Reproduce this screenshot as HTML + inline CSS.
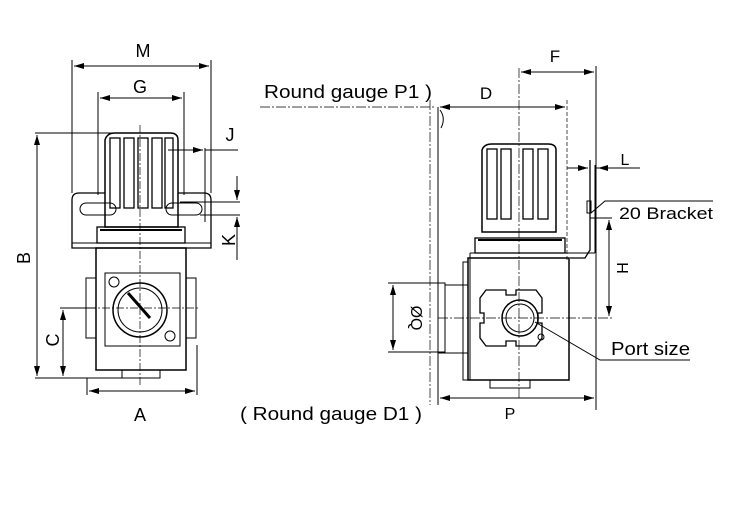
<!DOCTYPE html>
<html><head><style>body{margin:0;background:#fff}svg{display:block}text{font-family:"Liberation Sans",sans-serif;fill:#000}</style></head><body>
<svg width="734" height="508" viewBox="0 0 734 508" xmlns="http://www.w3.org/2000/svg">
<defs><marker id="a" viewBox="0 0 10 6" refX="10" refY="3" markerWidth="10" markerHeight="6" orient="auto-start-reverse"><path d="M0,0L10,3L0,6z" fill="#000"/></marker></defs>
<g stroke="#000" fill="none" stroke-width="1">
<line x1="72" y1="60" x2="72" y2="193"/><line x1="211" y1="60" x2="211" y2="193"/>
<line x1="74" y1="66" x2="209" y2="66" marker-start="url(#a)" marker-end="url(#a)"/>
<line x1="98" y1="92" x2="98" y2="195"/><line x1="184" y1="92" x2="184" y2="195"/>
<line x1="100" y1="98" x2="182" y2="98" marker-start="url(#a)" marker-end="url(#a)"/>
<line x1="35" y1="133" x2="150" y2="133"/>
<line x1="37" y1="135" x2="37" y2="376" marker-start="url(#a)" marker-end="url(#a)"/>
<line x1="35" y1="378" x2="160" y2="378"/>
<line x1="60" y1="308" x2="96" y2="308"/>
<line x1="63" y1="310" x2="63" y2="376" marker-start="url(#a)" marker-end="url(#a)"/>
<path d="M105,193 H79 Q72,193 72,200 V248 H211 V200 Q211,193 204,193 H178" stroke-width="1.3"/>
<rect x="80" y="203" width="36" height="12" rx="6"/><rect x="166" y="203" width="36" height="12" rx="6"/>
<line x1="72" y1="243" x2="211" y2="243"/>
<path d="M105,227 V140 Q107,133 115,133 H170 Q178,133 178,140 V227 Z" stroke-width="1.5"/>
<g stroke-width="1.3"><rect x="110" y="138" width="10" height="70"/><rect x="124" y="138" width="10" height="70"/><rect x="138" y="138" width="10" height="70"/><rect x="152" y="138" width="10" height="70"/><rect x="165" y="138" width="8" height="70"/></g>
<rect x="97" y="227" width="88" height="16" stroke-width="1.3"/><line x1="100" y1="230" x2="182" y2="230" stroke-width="2"/>
<rect x="96" y="248" width="90" height="122" stroke-width="1.5"/>
<rect x="122" y="370" width="38" height="8"/>
<rect x="105" y="273" width="75" height="73"/>
<circle cx="140" cy="310" r="27" stroke-width="1.5"/><circle cx="140" cy="310" r="22"/>
<line x1="128" y1="293" x2="150" y2="318" stroke-width="3"/>
<circle cx="114" cy="282" r="5"/><circle cx="170" cy="336" r="5"/>
<rect x="86" y="278" width="10" height="60"/><rect x="186" y="278" width="10" height="60"/>
<line x1="140" y1="125" x2="140" y2="385" stroke-dasharray="8,2,2,2" stroke-width=".7"/>
<line x1="60" y1="308" x2="200" y2="308" stroke-dasharray="8,2,2,2" stroke-width=".7"/>
<line x1="87" y1="378" x2="87" y2="395"/><line x1="197" y1="345" x2="197" y2="395"/>
<line x1="89" y1="391" x2="195" y2="391" marker-start="url(#a)" marker-end="url(#a)"/>
<line x1="168" y1="150" x2="203" y2="150" marker-end="url(#a)"/><line x1="205" y1="148" x2="205" y2="222"/><line x1="205" y1="150" x2="238" y2="150"/>
<line x1="180" y1="202" x2="240" y2="202"/><line x1="200" y1="215" x2="240" y2="215"/>
<line x1="237" y1="176" x2="237" y2="200" marker-end="url(#a)"/><line x1="237" y1="260" x2="237" y2="217" marker-end="url(#a)"/>
<line x1="519" y1="68" x2="519" y2="400" stroke-dasharray="10,2,2,2" stroke-width=".7"/>
<line x1="596" y1="66" x2="596" y2="410"/>
<line x1="521" y1="72" x2="594" y2="72" marker-start="url(#a)" marker-end="url(#a)"/>
<line x1="260" y1="107" x2="436" y2="107" stroke-dasharray="10,2,2,2" stroke-width=".7"/>
<line x1="440" y1="107" x2="565" y2="107" marker-start="url(#a)" marker-end="url(#a)"/>
<line x1="567" y1="100" x2="567" y2="262" stroke-dasharray="4,2" stroke-width=".7"/>
<line x1="430" y1="100" x2="430" y2="405" stroke-dasharray="10,2,2,2" stroke-width=".7"/>
<line x1="438" y1="107" x2="438" y2="405"/>
<path d="M440,110 Q446,118 441,128"/>
<path d="M482,232 V150 Q484,144 492,144 H548 Q556,144 556,150 V232 Z" stroke-width="1.5"/>
<g stroke-width="1.3"><rect x="487" y="149" width="10" height="70"/><rect x="501" y="149" width="10" height="70"/><rect x="523" y="149" width="10" height="70"/><rect x="538" y="149" width="10" height="70"/></g>
<rect x="475" y="238" width="90" height="15" stroke-width="1.3"/><line x1="478" y1="240" x2="562" y2="240" stroke-width="2"/>
<rect x="468" y="258" width="101" height="122" stroke-width="1.5"/><line x1="470" y1="253" x2="595" y2="253"/><line x1="470" y1="253" x2="470" y2="380"/>
<rect x="463" y="262" width="5" height="118"/>
<rect x="445" y="285" width="23" height="68"/><rect x="438" y="283" width="7" height="70"/>
<rect x="490" y="380" width="40" height="8"/>
<path d="M486,290 h20 v5 h10 v-5 h20 l6,8 v15 h-4 v10 h4 v15 l-6,8 h-20 v-5 h-10 v5 h-20 l-6,-8 v-15 h4 v-10 h-4 v-15z" stroke-width="1.3"/>
<circle cx="520" cy="318" r="18" stroke-width="1.5"/><circle cx="520" cy="318" r="14"/>
<circle cx="541" cy="337" r="3"/>
<path d="M590,160 V250 L585,258 H570" stroke-width="1.3"/><line x1="595" y1="165" x2="595" y2="253"/>
<rect x="587" y="201" width="4" height="12"/>
<line x1="567" y1="168" x2="588" y2="168" marker-end="url(#a)"/><line x1="615" y1="168" x2="598" y2="168" marker-end="url(#a)"/><line x1="596" y1="168" x2="640" y2="168"/>
<line x1="590" y1="218" x2="612" y2="218"/>
<path d="M591,213 L605,201 H713"/>
<line x1="609" y1="220" x2="609" y2="316" marker-start="url(#a)" marker-end="url(#a)"/>
<line x1="438" y1="318" x2="612" y2="318" stroke-dasharray="10,2,2,2" stroke-width=".7"/>
<line x1="388" y1="283" x2="445" y2="283"/><line x1="388" y1="352" x2="445" y2="352"/>
<line x1="393" y1="285" x2="393" y2="350" marker-start="url(#a)" marker-end="url(#a)"/>
<path d="M535,322 L600,360 H690"/>
<line x1="440" y1="398" x2="594" y2="398" marker-start="url(#a)" marker-end="url(#a)"/>
</g>
<g font-size="18">
<text x="143" y="57" text-anchor="middle">M</text>
<text x="140" y="93" text-anchor="middle">G</text>
<text x="230" y="141" text-anchor="middle">J</text>
<text x="140" y="421" text-anchor="middle">A</text>
<text transform="translate(30,258) rotate(-90)" text-anchor="middle">B</text>
<text transform="translate(59,340) rotate(-90)" text-anchor="middle">C</text>
<text transform="translate(235,240) rotate(-90)" text-anchor="middle">K</text>
<text x="555" y="62" text-anchor="middle" font-size="17">F</text>
<text x="486" y="99" text-anchor="middle" font-size="17">D</text>
<text x="625" y="165" text-anchor="middle" font-size="16">L</text>
<text transform="translate(628,268) rotate(-90)" text-anchor="middle" font-size="16">H</text>
<text transform="translate(411,318) rotate(90)" text-anchor="middle" font-size="16">ØQ</text>
<text x="510" y="419" text-anchor="middle" font-size="16">P</text>
<text x="264" y="98" font-size="18" textLength="168" lengthAdjust="spacingAndGlyphs">Round gauge P1 )</text>
<text x="240" y="420" font-size="18" textLength="182" lengthAdjust="spacingAndGlyphs">( Round gauge D1 )</text>
<text x="619" y="219" font-size="17" textLength="94" lengthAdjust="spacingAndGlyphs">20 Bracket</text>
<text x="611" y="355" font-size="18" textLength="79" lengthAdjust="spacingAndGlyphs">Port size</text>
</g>
</svg>
</body></html>
